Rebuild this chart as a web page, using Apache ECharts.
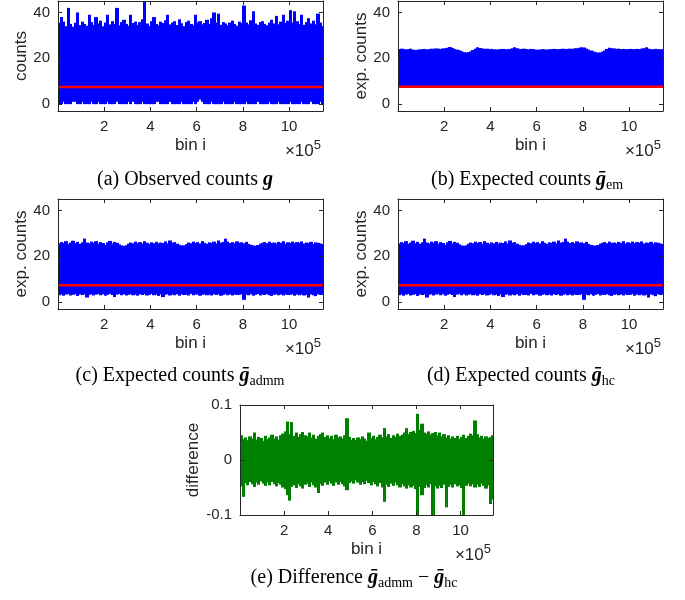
<!DOCTYPE html>
<html><head><meta charset="utf-8">
<script src="https://cdn.jsdelivr.net/npm/echarts@6/dist/echarts.min.js"></script>
<style>html,body{margin:0;padding:0;background:#fff}#c{width:685px;height:600px}</style>
</head><body><div id="c"></div>
<script>
// ---------------- data (one sample per 10^4 bins) ----------------
const binStep = 10000;
const xMax = 1147000;
const xTickValues = [200000, 400000, 600000, 800000, 1000000];
const countTicks = [0, 20, 40];
const diffTicks = [-0.1, 0, 0.1];
const meanLevel = [7.5, 7.6, 7.4, 7.4];

const observedUpper = [35.5,38,36,34,42,35,33.8,35.5,40,34.5,36,35,34.2,39,35.8,34.6,38,35.2,36.4,34,
 35.6,39,34.8,36.2,35,42,34.4,35.8,36.8,35,34.2,39,35.4,36,34.6,35.8,37,45,35.2,34,
 36.2,38,35,34.4,36,35.4,36.6,39,34.8,35.6,36.2,34.5,37,35.3,34,35.8,36.4,35,34.4,39,
 35.6,36.2,34.8,35.4,36.8,35,37.5,40,35.6,39.5,34.6,35.8,35.2,34.4,35.6,36.4,35,34.2,36,35.4,
 43,35.6,34.8,36.6,40.5,35.2,34.6,35.8,36.2,35,34.4,35.6,36.8,35.2,38.5,34.8,36,39,35.4,36.4,
 41,35.6,40.5,36.2,35,39,34.6,35.8,37.5,35.2,36.4,34.8,39.5,35.6,34];
const observedLower = [0,0,1,0,0,0,1,1,0,0,1,0,0,0,1,0,0,1,0,0,
 0,1,0,0,0,1,0,0,0,0,1,0,1,0,0,0,1,0,0,0,
 0,0,1,1,0,0,0,0,1,0,0,0,0,1,0,0,0,0,1,0,
 1,2,1,0,0,0,1,0,0,0,0,1,0,0,0,0,1,0,0,0,
 0,1,0,0,0,0,1,0,0,0,0,1,0,0,0,1,0,0,0,0,
 1,0,0,0,0,1,0,0,0,1,0,0,0,1,0];

const emUpper = [24.0,24.2,24.1,23.9,24.0,24.2,23.8,23.6,23.7,23.9,24.0,24.1,23.9,24.0,24.2,24.1,24.3,24.2,24.0,24.3,
 24.4,24.6,24.9,24.5,24.1,23.8,23.5,23.1,22.7,22.5,22.7,23.0,23.6,24.2,24.8,24.5,24.3,24.1,24.2,24.0,
 24.1,23.9,23.8,23.9,24.0,24.1,24.0,23.9,24.1,24.4,24.8,24.4,24.1,24.0,24.2,24.0,23.9,24.1,24.0,23.8,
 23.7,23.8,24.0,23.9,23.8,23.9,24.0,24.1,24.0,23.9,24.1,24.2,24.0,24.1,24.2,24.1,24.3,24.4,24.6,24.8,
 24.7,24.2,23.8,23.4,23.0,22.7,22.5,22.6,22.9,23.4,24.1,24.6,24.4,24.3,24.1,24.2,24.0,24.1,23.9,24.0,
 24.1,24.0,23.9,24.1,24.0,24.2,24.4,24.8,24.2,24.0,23.9,24.1,24.0,23.9,24.0];
const emLower = [7.8,7.8,7.8,7.8,7.8,7.8,7.8,7.8,7.8,7.8,7.8,7.8,7.8,7.8,7.8,7.8,7.8,7.8,7.8,7.8,
 7.8,7.8,7.8,7.8,7.8,7.8,7.8,7.8,7.8,7.8,7.8,7.8,7.8,7.8,7.8,7.8,7.8,7.8,7.8,7.8,
 7.8,7.8,7.8,7.8,7.8,7.8,7.8,7.8,7.8,7.8,7.8,7.8,7.8,7.8,7.8,7.8,7.8,7.8,7.8,7.8,
 7.8,7.8,7.8,7.8,7.8,7.8,7.8,7.8,7.8,7.8,7.8,7.8,7.8,7.8,7.8,7.8,7.8,7.8,7.8,7.8,
 7.8,7.8,7.8,7.8,7.8,7.8,7.8,7.8,7.8,7.8,7.8,7.8,7.8,7.8,7.8,7.8,7.8,7.8,7.8,7.8,
 7.8,7.8,7.8,7.8,7.8,7.8,7.8,7.8,7.8,7.8,7.8,7.8,7.8,7.8,7.8];

const admmUpper = [25.6,26.2,25.8,26.6,25.4,26.0,26.8,25.7,26.3,25.5,26.1,27.7,26.0,25.6,26.4,25.9,26.6,25.5,26.2,25.8,
 25.0,26.1,26.7,25.6,26.3,25.9,25.2,24.7,24.6,24.8,25.5,26.0,25.7,26.4,25.8,26.2,25.5,26.6,25.9,25.4,
 26.1,25.7,26.3,25.6,26.0,25.8,26.5,25.6,26.9,25.9,26.2,25.5,25.0,24.7,24.8,25.3,26.0,25.7,26.4,25.8,
 26.2,25.6,26.6,25.9,25.5,26.1,25.8,26.4,25.6,26.9,26.0,26.3,27.7,26.4,25.8,26.2,25.6,26.5,25.9,26.1,
 25.7,26.3,25.4,25.0,24.7,24.6,24.9,25.5,25.9,26.2,25.7,26.4,25.8,26.0,25.6,26.3,25.9,26.6,25.5,26.1,
 25.8,26.4,25.7,26.2,25.9,26.5,25.6,26.0,25.8,26.3,25.5,26.1,25.9,25.6,25.4];
const admmLower = [3.0,3.4,2.8,3.3,3.6,2.9,3.2,3.5,2.7,3.3,3.1,3.4,2.0,3.2,3.5,2.9,3.3,3.6,3.0,3.4,
 2.8,3.2,3.5,3.1,2.2,3.3,3.6,3.0,3.4,2.9,3.2,3.5,3.0,3.3,2.8,3.4,3.1,3.5,2.9,3.2,
 3.6,3.0,3.3,2.7,3.4,2.2,3.2,3.5,2.9,3.3,3.0,3.4,2.8,3.5,3.1,3.2,2.9,3.6,3.0,3.3,
 3.4,2.8,3.2,3.5,3.0,3.3,2.9,3.4,3.1,3.5,2.8,3.2,3.6,3.0,3.3,2.9,3.4,3.1,3.2,3.5,
 1.0,3.3,3.0,3.4,2.8,3.2,3.5,2.9,3.3,3.1,3.4,3.0,2.7,3.2,3.5,3.0,3.3,2.9,3.4,3.1,
 3.2,3.5,2.8,3.3,3.0,3.4,2.9,3.2,2.0,3.3,3.0,2.6,3.4,3.1,3.2];

// panel (d) is indistinguishable from (c) at this resolution
const hcUpper = admmUpper.slice();
const hcLower = admmLower.slice();

const diffUpper = [0.045,0.038,0.041,0.036,0.043,0.039,0.050,0.037,0.042,0.040,0.035,0.044,0.038,0.041,0.046,0.039,0.043,0.037,0.045,0.048,
 0.052,0.070,0.047,0.069,0.044,0.050,0.042,0.047,0.051,0.045,0.043,0.050,0.041,0.046,0.039,0.044,0.047,0.050,0.042,0.045,
 0.040,0.044,0.038,0.046,0.041,0.043,0.039,0.045,0.076,0.042,0.037,0.040,0.036,0.041,0.038,0.043,0.039,0.035,0.050,0.040,
 0.044,0.038,0.042,0.046,0.041,0.058,0.043,0.047,0.040,0.045,0.042,0.048,0.044,0.046,0.050,0.058,0.047,0.051,0.053,0.049,
 0.084,0.055,0.066,0.050,0.048,0.052,0.046,0.049,0.051,0.045,0.050,0.043,0.047,0.041,0.045,0.039,0.043,0.040,0.044,0.038,
 0.042,0.046,0.040,0.044,0.048,0.045,0.072,0.047,0.041,0.044,0.039,0.043,0.040,0.042,0.045];
const diffLower = [-0.048,-0.067,-0.042,-0.046,-0.040,-0.044,-0.049,-0.041,-0.045,-0.039,-0.043,-0.047,-0.041,-0.046,-0.040,-0.044,-0.048,-0.042,-0.045,-0.050,
 -0.053,-0.064,-0.074,-0.049,-0.046,-0.051,-0.044,-0.048,-0.052,-0.045,-0.043,-0.049,-0.041,-0.046,-0.050,-0.060,-0.044,-0.047,-0.041,-0.045,
 -0.039,-0.043,-0.047,-0.041,-0.045,-0.040,-0.044,-0.048,-0.055,-0.042,-0.039,-0.043,-0.037,-0.041,-0.045,-0.040,-0.044,-0.038,-0.042,-0.046,
 -0.040,-0.044,-0.048,-0.042,-0.050,-0.076,-0.045,-0.049,-0.043,-0.047,-0.041,-0.046,-0.050,-0.044,-0.048,-0.052,-0.046,-0.050,-0.047,-0.053,
 -0.120,-0.049,-0.064,-0.051,-0.046,-0.050,-0.044,-0.120,-0.048,-0.052,-0.047,-0.051,-0.045,-0.086,-0.049,-0.045,-0.050,-0.044,-0.048,-0.046,
 -0.051,-0.120,-0.047,-0.043,-0.048,-0.044,-0.050,-0.045,-0.049,-0.043,-0.047,-0.052,-0.046,-0.080,-0.072];

// ---------------- chart ----------------
const AX = '#262626';
const SANS = 'Liberation Sans';
const SERIF = 'Liberation Serif';

const panels = [
  {left: 58,  top: 1,   width: 265, height: 110, upper: observedUpper, lower: observedLower, color: '#0000ff', yName: 'counts',      yMin: -3,   yMax: 45,  yTicks: countTicks, mean: meanLevel[0]},
  {left: 398, top: 1,   width: 265, height: 110, upper: emUpper,       lower: emLower,       color: '#0000ff', yName: 'exp. counts', yMin: -3,   yMax: 45,  yTicks: countTicks, mean: meanLevel[1]},
  {left: 58,  top: 199, width: 265, height: 110, upper: admmUpper,     lower: admmLower,     color: '#0000ff', yName: 'exp. counts', yMin: -3,   yMax: 45,  yTicks: countTicks, mean: meanLevel[2]},
  {left: 398, top: 199, width: 265, height: 110, upper: hcUpper,       lower: hcLower,       color: '#0000ff', yName: 'exp. counts', yMin: -3,   yMax: 45,  yTicks: countTicks, mean: meanLevel[3]},
  {left: 240, top: 405, width: 253, height: 110, upper: diffUpper,     lower: diffLower,     color: '#008000', yName: 'difference',  yMin: -0.1, yMax: 0.1, yTicks: diffTicks,  mean: null}
];

const grid = [], xAxis = [], yAxis = [], series = [];

function bandItem(params, api) {
  const x = api.value(0), lo = api.value(1), hi = api.value(2);
  const a = api.coord([x - binStep / 2, hi]);
  const b = api.coord([x + binStep / 2, lo]);
  const cs = params.coordSys;
  const x0 = Math.floor(a[0]), x1 = Math.ceil(b[0]);
  const shape = echarts.graphic.clipRectByRect(
    {x: x0, y: a[1], width: x1 - x0, height: b[1] - a[1]},
    {x: cs.x, y: cs.y, width: cs.width, height: cs.height});
  return shape && {type: 'rect', shape: shape, style: {fill: api.visual('color')}};
}

panels.forEach((p, g) => {
  grid.push({left: p.left, top: p.top, width: p.width, height: p.height, containLabel: false});
  const lineStyle = {color: AX, width: 1};
  xAxis.push({
    type: 'value', gridIndex: g, min: 0, max: xMax, position: 'bottom', z: 5,
    axisLine: {show: true, onZero: false, lineStyle},
    axisTick: {show: true, inside: true, length: 4, customValues: xTickValues, lineStyle},
    axisLabel: {show: true, customValues: xTickValues, formatter: v => String(Math.round(v / 1e5)),
      color: AX, fontSize: 15, fontFamily: SANS, margin: 8},
    splitLine: {show: false},
    name: 'bin i', nameLocation: 'middle', nameGap: 26,
    nameTextStyle: {color: AX, fontSize: 17, fontFamily: SANS}
  });
  xAxis.push({
    type: 'value', gridIndex: g, min: 0, max: xMax, position: 'top', z: 5,
    axisLine: {show: true, onZero: false, lineStyle},
    axisTick: {show: true, inside: true, length: 4, customValues: xTickValues, lineStyle},
    axisLabel: {show: false}, splitLine: {show: false}
  });
  yAxis.push({
    type: 'value', gridIndex: g, min: p.yMin, max: p.yMax, position: 'left', z: 5,
    axisLine: {show: true, onZero: false, lineStyle},
    axisTick: {show: true, inside: true, length: 4, customValues: p.yTicks, lineStyle},
    axisLabel: {show: true, customValues: p.yTicks, formatter: v => String(v), color: AX,
      fontSize: 15, fontFamily: SANS, margin: 8},
    splitLine: {show: false},
    name: p.yName, nameLocation: 'middle', nameGap: g === 4 ? 36 : 27,
    nameTextStyle: {color: AX, fontSize: 17, fontFamily: SANS}
  });
  yAxis.push({
    type: 'value', gridIndex: g, min: p.yMin, max: p.yMax, position: 'right', z: 5,
    axisLine: {show: true, onZero: false, lineStyle},
    axisTick: {show: true, inside: true, length: 4, customValues: p.yTicks, lineStyle},
    axisLabel: {show: false}, splitLine: {show: false}
  });
  series.push({
    type: 'custom', xAxisIndex: 2 * g, yAxisIndex: 2 * g, renderItem: bandItem, silent: true,
    itemStyle: {color: p.color}, animation: false,
    data: p.upper.map((hi, i) => [i * binStep + binStep / 2, p.lower[i], hi])
  });
  if (p.mean !== null) {
    series.push({
      type: 'line', xAxisIndex: 2 * g, yAxisIndex: 2 * g, showSymbol: false, silent: true,
      animation: false, z: 4,
      lineStyle: {color: '#ff0000', width: 2.5},
      data: [[0, p.mean], [xMax, p.mean]]
    });
  }
});

const graphic = [];
panels.forEach((p) => {
  graphic.push({
    type: 'text', x: p.left + p.width - 2, y: p.top + p.height + 40,
    style: {
      text: '{m|×10}{s|5}', align: 'right', verticalAlign: 'middle', fill: AX,
      rich: {
        m: {fontSize: 17, fontFamily: SANS, fill: AX, lineHeight: 24, verticalAlign: 'middle'},
        s: {fontSize: 13, fontFamily: SANS, fill: AX, lineHeight: 13, verticalAlign: 'top'}
      }
    }
  });
});

const capRich = {
  n: {fontSize: 20, fontFamily: SERIF, fill: '#000', lineHeight: 24, verticalAlign: 'middle'},
  bi: {fontSize: 20, fontFamily: SERIF, fontWeight: 'bold', fontStyle: 'italic', fill: '#000', lineHeight: 24, verticalAlign: 'middle'},
  sub: {fontSize: 14, fontFamily: SERIF, fill: '#000', lineHeight: 14, verticalAlign: 'bottom'}
};
const captions = [
  {x: 185, y: 180, text: '{n|(a) Observed counts }{bi|g}'},
  {x: 527, y: 180, text: '{n|(b) Expected counts }{bi|ḡ}{sub|em}'},
  {x: 180, y: 376, text: '{n|(c) Expected counts }{bi|ḡ}{sub|admm}'},
  {x: 521, y: 376, text: '{n|(d) Expected counts }{bi|ḡ}{sub|hc}'},
  {x: 354, y: 578, text: '{n|(e) Difference }{bi|ḡ}{sub|admm}{n| − }{bi|ḡ}{sub|hc}'}
];
captions.forEach(c => {
  graphic.push({
    type: 'text', x: c.x, y: c.y,
    style: {text: c.text, align: 'center', verticalAlign: 'middle', rich: capRich}
  });
});

const chart = echarts.init(document.getElementById('c'), null, {renderer: 'canvas'});
chart.setOption({
  animation: false,
  backgroundColor: '#ffffff',
  grid, xAxis, yAxis, series, graphic
});
</script>
</body></html>
